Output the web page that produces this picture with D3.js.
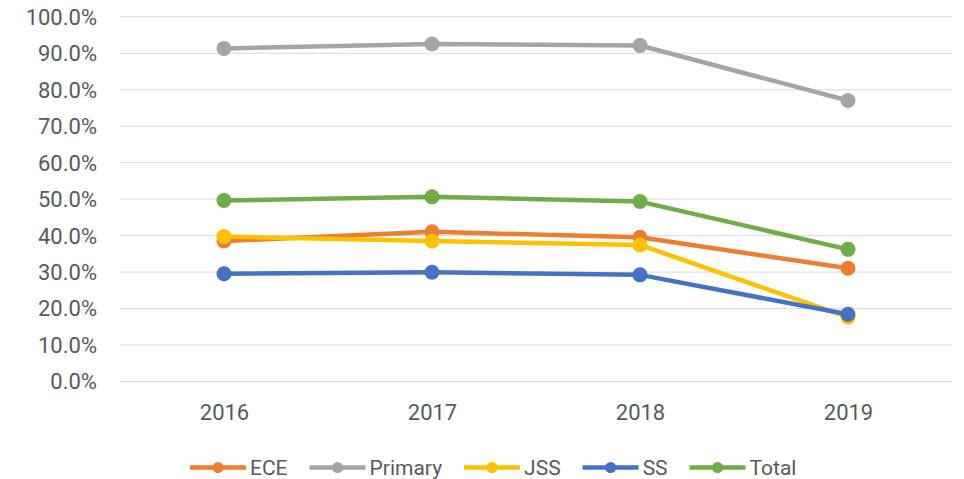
<!DOCTYPE html>
<html>
<head>
<meta charset="utf-8">
<script src="https://cdn.jsdelivr.net/npm/d3@7"></script>
<style>
  html, body { margin: 0; padding: 0; background: #ffffff; }
  svg { display: block; }
  text { font-family: Roboto, "Liberation Sans", Arial, sans-serif; fill: #595959; }
</style>
</head>
<body>
<svg id="chart" width="964" height="479"></svg>
<script>
// Years along the x axis
const years = ["2016", "2017", "2018", "2019"];

// Share per education level, by year
const ece     = [0.384, 0.409, 0.394, 0.309];
const primary = [0.912, 0.924, 0.920, 0.769];
const jss     = [0.396, 0.384, 0.373, 0.175];
const ss      = [0.294, 0.298, 0.291, 0.183];
const total   = [0.495, 0.505, 0.492, 0.361];

const seriesNames  = ["ECE", "Primary", "JSS", "SS", "Total"];
const seriesValues = [ece, primary, jss, ss, total];
const seriesColors = ["#ED7D31", "#A5A5A5", "#FFC000", "#4472C4", "#70AD47"];

// Y tick values, 0% to 100% in steps of 10%
const yTicks = [0, 0.1, 0.2, 0.3, 0.4, 0.5, 0.6, 0.7, 0.8, 0.9, 1.0];

const svg = d3.select("#chart");

const plot = { left: 120, right: 952, top: 16.3, bottom: 381 };

const x = d3.scalePoint()
  .domain(years)
  .range([plot.left, plot.right])
  .padding(0.5);

const y = d3.scaleLinear()
  .domain([0, 1])
  .range([plot.bottom, plot.top]);

// Horizontal gridlines with percentage labels
const yAxis = svg.append("g")
  .attr("transform", `translate(${plot.left},0)`)
  .call(d3.axisLeft(y)
    .tickValues(yTicks)
    .tickFormat(d3.format(".1%"))
    .tickSize(-(plot.right - plot.left))
    .tickPadding(23));
yAxis.select(".domain").remove();
yAxis.selectAll(".tick line").attr("stroke", "#d9d9d9").attr("stroke-width", 1);
yAxis.selectAll(".tick text")
  .attr("font-size", 22)
  .attr("dy", "0.36em")
  .attr("fill", "#595959");

// Category labels
const xAxis = svg.append("g")
  .attr("transform", `translate(0,${plot.bottom})`)
  .call(d3.axisBottom(x).tickSize(0).tickPadding(23));
xAxis.select(".domain").remove();
xAxis.selectAll(".tick text")
  .attr("font-size", 22)
  .attr("dy", "0.71em")
  .attr("fill", "#595959");

// Lines and markers
const line = d3.line()
  .x((d, i) => x(years[i]))
  .y(d => y(d));

seriesValues.forEach((vals, si) => {
  const g = svg.append("g").attr("class", "series");
  g.append("path")
    .datum(vals)
    .attr("d", line)
    .attr("fill", "none")
    .attr("stroke", seriesColors[si])
    .attr("stroke-width", 4.5)
    .attr("stroke-linejoin", "round")
    .attr("stroke-linecap", "round");
  g.selectAll("circle")
    .data(vals)
    .join("circle")
    .attr("cx", (d, i) => x(years[i]))
    .attr("cy", d => y(d))
    .attr("r", 7.5)
    .attr("fill", seriesColors[si]);
});

// Legend along the bottom
const legend = svg.append("g").attr("class", "legend");
const legendY = 467.5;
let lx = 190;
seriesNames.forEach((name, i) => {
  const item = legend.append("g").attr("transform", `translate(${lx},0)`);
  item.append("line")
    .attr("x1", 0).attr("x2", 56)
    .attr("y1", legendY).attr("y2", legendY)
    .attr("stroke", seriesColors[i])
    .attr("stroke-width", 4.5);
  item.append("circle")
    .attr("cx", 28).attr("cy", legendY)
    .attr("r", 5.5)
    .attr("fill", seriesColors[i]);
  const t = item.append("text")
    .attr("x", 60)
    .attr("y", 475)
    .attr("font-size", 21)
    .attr("textLength", null)
    .text(name);
  const w = t.node().getComputedTextLength();
  lx += 60 + w + 22;
});
</script>
</body>
</html>
